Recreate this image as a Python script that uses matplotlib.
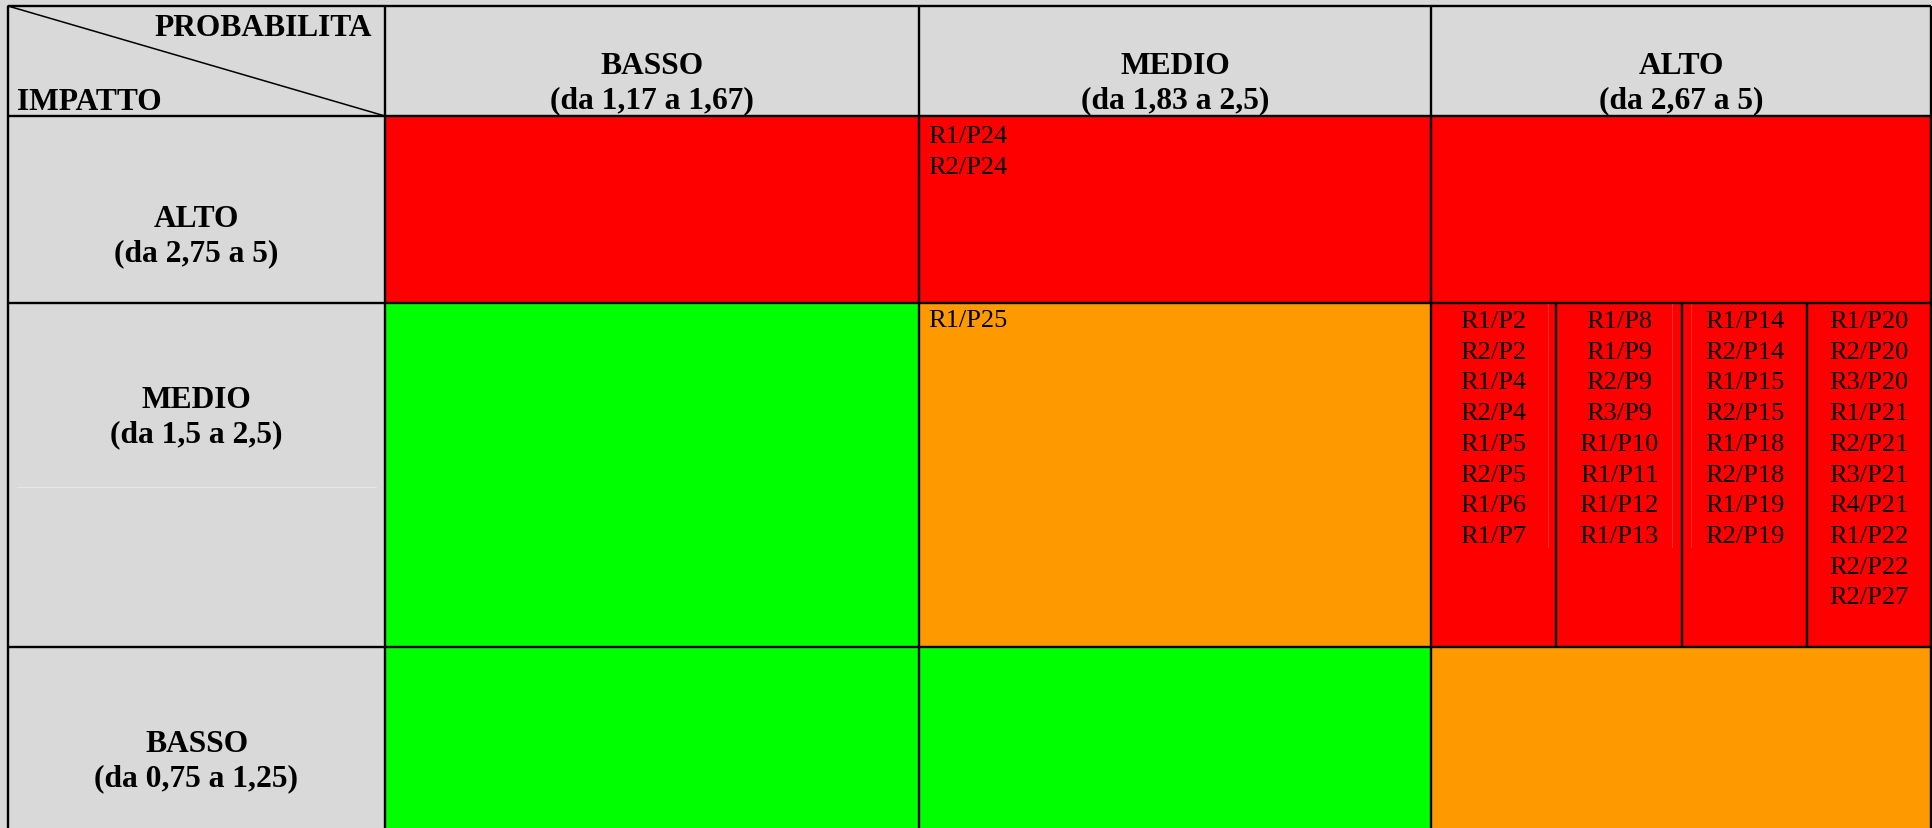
import matplotlib
matplotlib.use("Agg")
import matplotlib.pyplot as plt
from matplotlib.patches import Rectangle

# ---- data ----
prob_levels = ["BASSO", "MEDIO", "ALTO"]
prob_ranges = ["(da 1,17 a 1,67)", "(da 1,83 a 2,5)", "(da 2,67 a 5)"]
impact_levels = ["ALTO", "MEDIO", "BASSO"]
impact_ranges = ["(da 2,75 a 5)", "(da 1,5 a 2,5)", "(da 0,75 a 1,25)"]
corner_top = "PROBABILITA"
corner_bottom = "IMPATTO"

# risk level per cell: rows = impact (ALTO, MEDIO, BASSO), cols = probability (BASSO, MEDIO, ALTO)
risk_matrix = [
    ["alto", "alto", "alto"],
    ["basso", "medio", "alto"],
    ["basso", "basso", "medio"],
]
risk_colors = {"alto": "#FF0000", "medio": "#FF9900", "basso": "#00FF00"}

# entries in cells
entries_alto_medio = ["R1/P24", "R2/P24"]
entries_medio_medio = ["R1/P25"]
entries_medio_alto = [
    ["R1/P2", "R2/P2", "R1/P4", "R2/P4", "R1/P5", "R2/P5", "R1/P6", "R1/P7"],
    ["R1/P8", "R1/P9", "R2/P9", "R3/P9", "R1/P10", "R1/P11", "R1/P12", "R1/P13"],
    ["R1/P14", "R2/P14", "R1/P15", "R2/P15", "R1/P18", "R2/P18", "R1/P19", "R2/P19"],
    ["R1/P20", "R2/P20", "R3/P20", "R1/P21", "R2/P21", "R3/P21", "R4/P21", "R1/P22",
     "R2/P22", "R2/P27"],
]

# ---- layout (pixel coordinates) ----
W, H = 1932, 829
col_edges = [8, 385, 919, 1431, 1931]
row_edges = [7, 117, 304, 648, 840]
sub_edges = [1431, 1556, 1682, 1807, 1931]
header_baselines = (74, 108)
label_baselines = [(227, 261), (408, 442), (752, 786)]
GRAY = "#D9D9D9"
LW = 1.7
SERIF = ["Liberation Serif", "DejaVu Serif"]
BOLD_FS = 22.7
REG_FS = 19.0
LINE_STEP = 30.7

fig = plt.figure(figsize=(W / 100, H / 100), dpi=100, facecolor=GRAY)
ax = fig.add_axes([0, 0, 1, 1])
ax.set_xlim(0, W)
ax.set_ylim(H, 0)
ax.axis("off")
ax.set_facecolor(GRAY)

# cell backgrounds
for i in range(3):
    for j in range(3):
        x0, x1 = col_edges[j + 1], col_edges[j + 2]
        y0, y1 = row_edges[i + 1], row_edges[i + 2]
        ax.add_patch(Rectangle((x0, y0), x1 - x0, y1 - y0,
                               facecolor=risk_colors[risk_matrix[i][j]], edgecolor="none", zorder=1))

# grid lines
for x in col_edges:
    ax.plot([x, x], [row_edges[0], H + 5], color="black", lw=LW, zorder=3, solid_capstyle="butt")
for y in row_edges[:-1]:
    ax.plot([col_edges[0], col_edges[-1]], [y, y], color="black", lw=LW, zorder=3, solid_capstyle="butt")
# sub-columns in MEDIO/ALTO cell
for x in sub_edges[1:-1]:
    ax.plot([x, x], [row_edges[2], row_edges[3]], color="black", lw=LW, zorder=3, solid_capstyle="butt")
# faint artifacts
for x in [1548, 1672, 1691]:
    ax.plot([x, x], [row_edges[2], 548], color="#FF3A3A", lw=0.6, zorder=2)
ax.plot([17, 376], [488, 488], color="#E6E6E6", lw=0.8, zorder=2)

# diagonal in corner
ax.plot([col_edges[0], col_edges[1]], [row_edges[0], row_edges[1]], color="black", lw=1.1, zorder=3)

bold = dict(family=SERIF, fontsize=BOLD_FS, fontweight="bold", color="black", va="baseline")
reg = dict(family=SERIF, fontsize=REG_FS, color="black", va="baseline")

ax.text(372, 36, corner_top, ha="right", **bold)
ax.text(17, 110, corner_bottom, ha="left", **bold)

for j in range(3):
    cx = (col_edges[j + 1] + col_edges[j + 2]) / 2
    ax.text(cx, header_baselines[0], prob_levels[j], ha="center", **bold)
    ax.text(cx, header_baselines[1], prob_ranges[j], ha="center", **bold)

for i in range(3):
    cx = (col_edges[0] + col_edges[1]) / 2
    ax.text(cx, label_baselines[i][0], impact_levels[i], ha="center", **bold)
    ax.text(cx, label_baselines[i][1], impact_ranges[i], ha="center", **bold)

for k, t in enumerate(entries_alto_medio):
    ax.text(928, 143 + k * LINE_STEP, t, ha="left", **reg)
for k, t in enumerate(entries_medio_medio):
    ax.text(928, 327 + k * LINE_STEP, t, ha="left", **reg)
for s, lst in enumerate(entries_medio_alto):
    cx = (sub_edges[s] + sub_edges[s + 1]) / 2
    for k, t in enumerate(lst):
        ax.text(cx, 328 + k * LINE_STEP, t, ha="center", **reg)

fig.savefig("out.png", dpi=100, facecolor=GRAY)
